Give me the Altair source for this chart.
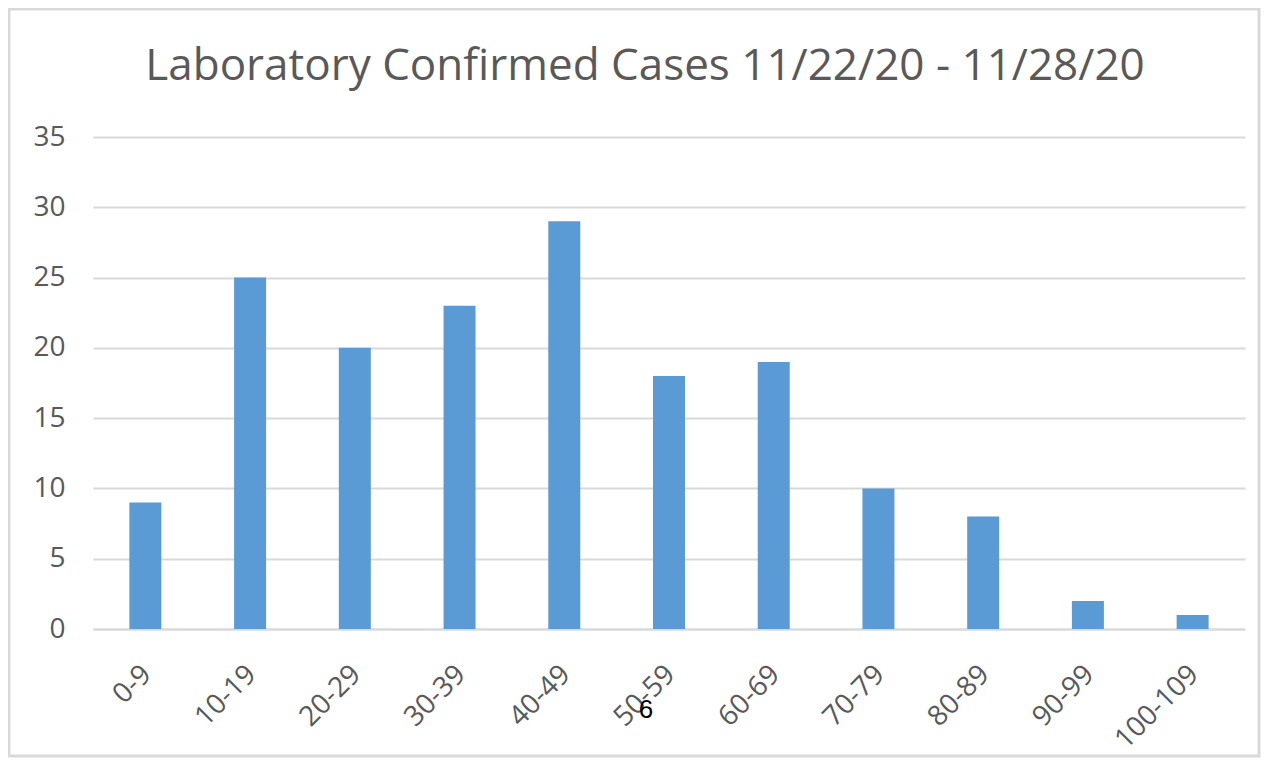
import altair as alt
import pandas as pd

age_groups = ["0-9", "10-19", "20-29", "30-39", "40-49", "50-59",
              "60-69", "70-79", "80-89", "90-99", "100-109"]
cases = [9, 25, 20, 23, 29, 18, 19, 10, 8, 2, 1]
title_text = ["Laboratory Confirmed Cases 11/22/20 - 11/28/20"]
page_number = ["6"]

df = pd.DataFrame({"age": age_groups, "cases": cases})

TEXT = "#595959"
GRID = "#D9D9D9"
FONT = "Open Sans"

base = alt.Chart(df)

bars = base.mark_bar(color="#5B9BD5", size=32).encode(
    x=alt.X("age:N", sort=age_groups, title=None,
            scale=alt.Scale(paddingInner=0.0, paddingOuter=0.0),
            axis=alt.Axis(labelAngle=-45, labelFontSize=28, labelColor=TEXT,
                          labelFont=FONT, ticks=False, domainColor=GRID,
                          domainWidth=2, labelPadding=31, labelOffset=-8)),
    y=alt.Y("cases:Q", title=None,
            scale=alt.Scale(domain=[0, 35], nice=False),
            axis=alt.Axis(values=[0, 5, 10, 15, 20, 25, 30, 35], ticks=False,
                          domain=False, labelFontSize=28, labelColor=TEXT,
                          labelFont=FONT, gridColor=GRID, gridWidth=2,
                          labelPadding=28)),
)

border = alt.Chart(alt.Data(values=[{"a": 1}])).mark_rect(
    fill=None, stroke=GRID, strokeWidth=3
).encode(
    x=alt.value(-84), x2=alt.value(1166),
    y=alt.value(-128), y2=alt.value(619),
)

title = alt.Chart(alt.Data(values=[{"t": t} for t in title_text])).mark_text(
    font=FONT, fontSize=44, color=TEXT, baseline="middle", align="center"
).encode(
    text="t:N", x=alt.value(552), y=alt.value(-70)
)

page = alt.Chart(alt.Data(values=[{"t": t} for t in page_number])).mark_text(
    font="Liberation Sans", fontSize=26, color="black"
).encode(
    text="t:N", x=alt.value(553), y=alt.value(573)
)

chart = alt.layer(border, bars, title, page).properties(
    width=1152, height=492,
    autosize=alt.AutoSizeParams(type="none"),
    padding={"left": 85, "top": 129, "right": 17, "bottom": 130},
    background="white",
).configure_view(stroke=None)

chart.save("out.html", embed_options={"renderer": "svg", "actions": False})
